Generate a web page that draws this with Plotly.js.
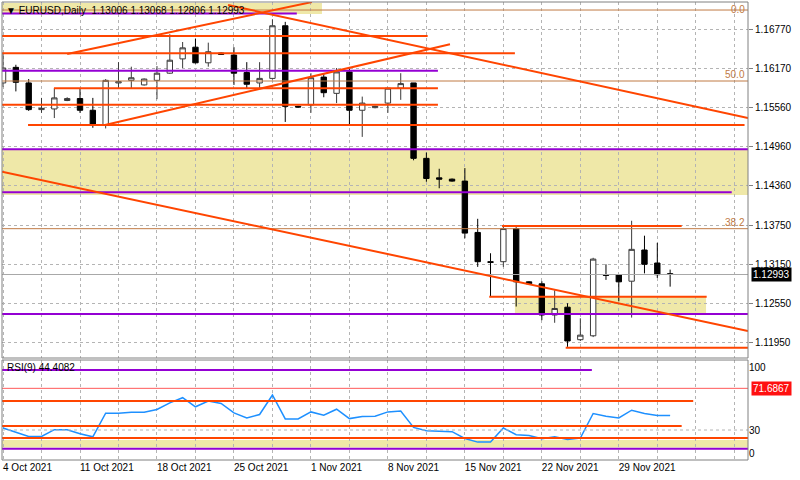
<!DOCTYPE html>
<html><head><meta charset="utf-8">
<script src="https://cdn.plot.ly/plotly-3.0.1.min.js"></script>
<style>html,body{margin:0;padding:0;background:#fff}#chart{width:800px;height:480px}</style>
</head><body><div id="chart"></div>
<script>
// ---- data ----
const dates = ['2021-10-04','2021-10-05','2021-10-06','2021-10-07','2021-10-08','2021-10-10',
 '2021-10-11','2021-10-12','2021-10-13','2021-10-14','2021-10-15','2021-10-17',
 '2021-10-18','2021-10-19','2021-10-20','2021-10-21','2021-10-22','2021-10-24',
 '2021-10-25','2021-10-26','2021-10-27','2021-10-28','2021-10-29','2021-10-31',
 '2021-11-01','2021-11-02','2021-11-03','2021-11-04','2021-11-05','2021-11-07',
 '2021-11-08','2021-11-09','2021-11-10','2021-11-11','2021-11-12','2021-11-14',
 '2021-11-15','2021-11-16','2021-11-17','2021-11-18','2021-11-19','2021-11-21',
 '2021-11-22','2021-11-23','2021-11-24','2021-11-25','2021-11-26','2021-11-28',
 '2021-11-29','2021-11-30','2021-12-01','2021-12-02','2021-12-03'];
const open  = [1.1594,1.1618,1.1594,1.1553,1.1554,1.1567, 1.1570,1.1552,1.1529,1.1594,1.1598,1.1591,
 1.1598,1.1609,1.1631,1.1649,1.1625,1.1640, 1.1637,1.1610,1.1594,1.1601,1.1682,1.1558,
 1.1560,1.1603,1.1578,1.1611,1.1552,1.1556, 1.1563,1.1586,1.1594,1.1478,1.1448,1.1446,
 1.1443,1.1364,1.1319,1.1319,1.1370,1.1288, 1.1285,1.1237,1.1249,1.1199,1.1205,1.1299,
 1.1299,1.1289,1.1337,1.1317,1.13006];
const high  = [1.1640,1.1622,1.1600,1.1571,1.1586,1.1572, 1.1585,1.1571,1.1600,1.1626,1.1619,1.1601,
 1.1620,1.1669,1.1657,1.1662,1.1656,1.1641, 1.1649,1.1626,1.1626,1.1692,1.1688,1.1559,
 1.1609,1.1608,1.1617,1.1616,1.1573,1.1559, 1.1586,1.1609,1.1594,1.1487,1.1462,1.1447,
 1.1463,1.1385,1.1332,1.1373,1.1372,1.1289, 1.1289,1.1275,1.1255,1.1232,1.1325,1.1315,
 1.1300,1.1382,1.1359,1.1348,1.13068];
const low   = [1.1588,1.1581,1.1551,1.1548,1.1540,1.1566, 1.1548,1.1525,1.1524,1.1586,1.1586,1.1590,
 1.1569,1.1608,1.1617,1.1624,1.1619,1.1637, 1.1591,1.1586,1.1586,1.1599,1.1534,1.1556,
 1.1548,1.1572,1.1563,1.1529,1.1511,1.1555, 1.1548,1.1568,1.1475,1.1442,1.1432,1.1442,
 1.1355,1.1311,1.1265,1.1311,1.1250,1.1284, 1.1229,1.1225,1.1188,1.1197,1.1203,1.1291,
 1.1258,1.1233,1.1301,1.1294,1.12806];
const close = [1.1617,1.1595,1.1553,1.1555,1.1571,1.1570, 1.1552,1.1529,1.1598,1.1596,1.1602,1.1600,
 1.1609,1.1629,1.1648,1.1625,1.1642,1.1638, 1.1609,1.1592,1.1601,1.1682,1.1558,1.1557,
 1.1602,1.1579,1.1611,1.1552,1.1563,1.1558, 1.1586,1.1593,1.1478,1.1447,1.1446,1.1443,
 1.1363,1.1319,1.1318,1.1370,1.1288,1.1285, 1.1237,1.1247,1.1197,1.1206,1.1323,1.1298,
 1.1288,1.1338,1.1315,1.1299,1.12993];
const rsi = [32.0,28.0,23.6,23.6,30.3,30.3, 26.3,23.2,46.8,46.8,47.8,47.8,
 50.5,57.2,62.3,53.2,58.9,56.6, 47.1,42.1,45.5,65.0,41.1,41.1,
 48.1,44.8,50.8,41.4,43.4,43.8, 48.1,49.0,32.6,29.3,28.6,28.3,
 21.5,17.9,17.9,32.0,25.3,24.6, 21.2,23.2,20.5,21.9,46.5,43.8,
 42.1,49.8,46.5,44.6,44.4];
const tickDates = ['2021-10-04','2021-10-11','2021-10-18','2021-10-25','2021-11-01','2021-11-08','2021-11-15','2021-11-22','2021-11-29'];
const tickLabels = ['4 Oct 2021','11 Oct 2021','18 Oct 2021','25 Oct 2021','1 Nov 2021','8 Nov 2021','15 Nov 2021','22 Nov 2021','29 Nov 2021'];
const priceTicks = [1.16770,1.16170,1.15560,1.14960,1.14360,1.13750,1.13150,1.12550,1.11950];
const priceTickText = ['1.16770','1.16170','1.15560','1.14960','1.14360','1.13750','1.13150','1.12550','1.11950'];
const lastPrice = 1.12993;
const titleText = '▼ EURUSD,Daily  1.13006 1.13068 1.12806 1.12993';
const rsiTitle = 'RSI(9) 44.4082';
const rsiMarked = 71.6867;

// drawn objects (bar-index, price)
const XMIN = -0.08, XMAX = 58.07;
const orangeLevels = [1.16662,1.16396,1.15858,1.15605,1.15293,1.13739,1.12651,1.11867];
const orangeFrom   = [XMIN,XMIN,3.97,XMIN,1.95,38.9,37.9,43.86];
const orangeTo     = [33.1,39.9,33.9,33.9,57.8,52.9,54.85,XMAX];
const purpleLevels = [1.17008,1.16128,1.14919,1.14258,1.12385];
const purpleFrom   = [XMIN,XMIN,XMIN,XMIN,XMIN];
const purpleTo     = [22.9,33.9,XMAX,56.8,XMAX];
const fibLevels = [1.17062,1.15970,1.13698];
const fibLabels = ['0.0','50.0','38.2'];
const zoneLow  = [1.17001,1.14216,1.12401];
const zoneHigh = [1.17170,1.14908,1.12647];
const zoneFrom = [XMIN,XMIN,39.9];
const zoneTo   = [24.86,XMAX,54.8];
const trendX0 = [5.0,7.95,17.54,XMIN];
const trendY0 = [1.16385,1.15293,1.17139,1.14575];
const trendX1 = [24.08,34.84,XMAX,XMAX];
const trendY1 = [1.17185,1.16535,1.15401,1.12124];
const rsiLevels = [90,71.6867,59,34,30,22,11.3];
const rsiLevelTo = [45.9,XMAX,53.8,52.9,XMAX,XMAX,XMAX];
const rsiZone = [12.5,20];

// ---- build ----
const xs = dates.map((d,i)=>i);
const tickvals = tickDates.map(d=>dates.indexOf(d));

const ORANGE='#ff4500', PURPLE='#9400d3', FIB='#c07a45', ZONE='#efe8a8';
const shapes = [];
zoneLow.forEach((lo,i)=>shapes.push({type:'rect',xref:'x',yref:'y',x0:zoneFrom[i],x1:zoneTo[i],y0:lo,y1:zoneHigh[i],fillcolor:ZONE,line:{width:0},layer:'below'}));
shapes.push({type:'rect',xref:'x',yref:'y2',x0:XMIN,x1:XMAX,y0:rsiZone[0],y1:rsiZone[1],fillcolor:ZONE,line:{width:0},layer:'below'});
fibLevels.forEach(v=>shapes.push({type:'line',xref:'x',yref:'y',x0:XMIN,x1:XMAX,y0:v,y1:v,line:{color:FIB,width:1}}));
shapes.push({type:'line',xref:'x',yref:'y',x0:XMIN,x1:XMAX,y0:lastPrice,y1:lastPrice,line:{color:'#a8a8a8',width:1}});
purpleLevels.forEach((v,i)=>shapes.push({type:'line',xref:'x',yref:'y',x0:purpleFrom[i],x1:purpleTo[i],y0:v,y1:v,line:{color:PURPLE,width:2}}));
orangeLevels.forEach((v,i)=>shapes.push({type:'line',xref:'x',yref:'y',x0:orangeFrom[i],x1:orangeTo[i],y0:v,y1:v,line:{color:ORANGE,width:2}}));
trendX0.forEach((x,i)=>shapes.push({type:'line',xref:'x',yref:'y',x0:x,x1:trendX1[i],y0:trendY0[i],y1:trendY1[i],line:{color:ORANGE,width:2}}));
const rsiColors = [PURPLE,'#ff5a5a',ORANGE,ORANGE,'#b4b4b4',ORANGE,PURPLE];
rsiLevels.forEach((v,i)=>shapes.push({type:'line',xref:'x',yref:'y2',x0:XMIN,x1:rsiLevelTo[i],y0:v,y1:v,
  line:{color:rsiColors[i],width:(i===1||i===4)?1:2,dash:i===4?'dot':'solid'}}));
// pane frames
shapes.push({type:'rect',xref:'paper',yref:'paper',x0:0,x1:1,y0:0.2227,y1:1,line:{color:'#808080',width:1}});
shapes.push({type:'rect',xref:'paper',yref:'paper',x0:0,x1:1,y0:0,y1:0.2183,line:{color:'#808080',width:1}});

const annotations = [
 {xref:'paper',yref:'paper',x:0,y:1,xanchor:'left',yanchor:'top',xshift:2,yshift:-1,text:titleText,showarrow:false,font:{size:10,color:'#000'}},
 {xref:'paper',yref:'y2',x:0,y:93,xanchor:'left',yanchor:'middle',xshift:3,text:rsiTitle,showarrow:false,font:{size:10,color:'#000'}},
 {xref:'paper',yref:'y',x:1,y:lastPrice,xanchor:'left',yanchor:'middle',xshift:3,text:lastPrice.toFixed(5),showarrow:false,bgcolor:'#000',borderpad:1,font:{size:10,color:'#fff'}},
 {xref:'paper',yref:'y2',x:1,y:rsiMarked,xanchor:'left',yanchor:'middle',xshift:3,text:rsiMarked.toFixed(4),showarrow:false,bgcolor:'#ff1010',borderpad:1,font:{size:10,color:'#fff'}}
];
fibLevels.forEach((v,i)=>annotations.push(i===0
  ? {xref:'x',yref:'paper',x:XMAX,y:1,xanchor:'right',yanchor:'top',xshift:-2,yshift:-1,text:fibLabels[i],showarrow:false,borderpad:0,font:{size:10,color:FIB}}
  : {xref:'x',yref:'y',x:XMAX,y:v,xanchor:'right',yanchor:'bottom',xshift:-2,text:fibLabels[i],showarrow:false,borderpad:0,font:{size:10,color:FIB}}));

const traces = [
 {type:'candlestick',x:xs,open:open,high:high,low:low,close:close,xaxis:'x',yaxis:'y',whiskerwidth:0,hoverinfo:'skip',
  increasing:{line:{color:'#3a3a3a',width:1},fillcolor:'#ffffff'},
  decreasing:{line:{color:'#000000',width:1},fillcolor:'#000000'}},
 {type:'scatter',mode:'lines',x:xs,y:rsi,xaxis:'x',yaxis:'y2',line:{color:'#1e90ff',width:1.5},hoverinfo:'skip'}
];

const layout = {
 width:800,height:480,margin:{l:2,r:52,t:2,b:20,pad:0},
 paper_bgcolor:'#ffffff',plot_bgcolor:'#ffffff',showlegend:false,boxgap:0.4,
 font:{family:'"Liberation Sans", Arial, sans-serif',size:10,color:'#000'},
 xaxis:{range:[XMIN,XMAX],anchor:'y2',tickmode:'array',tickvals:tickvals,ticktext:tickLabels,
   ticklabelposition:'outside right',ticks:'',showgrid:false,zeroline:false,showline:false,
   rangeslider:{visible:false},fixedrange:true,tickfont:{size:10,color:'#000'},
   minor:{tickmode:'linear',tick0:0,dtick:3,showgrid:true,gridcolor:'#b4b4b4',griddash:'dot',gridwidth:1,ticks:''}},
 yaxis:{domain:[0.2227,1],range:[1.117083,1.171854],side:'right',anchor:'x',tickmode:'array',
   tickvals:priceTicks,ticktext:priceTickText,ticks:'outside',ticklen:4,tickcolor:'#808080',
   showgrid:true,gridcolor:'#b4b4b4',griddash:'dot',gridwidth:1,zeroline:false,showline:false,fixedrange:true,
   tickfont:{size:10,color:'#000'}},
 yaxis2:{domain:[0,0.2183],range:[0,100],side:'right',anchor:'x',tickmode:'array',tickvals:[6,30,93],
   ticktext:['0','30','100'],ticks:'',showgrid:false,zeroline:false,showline:false,fixedrange:true,
   tickfont:{size:10,color:'#000'}},
 shapes:shapes,annotations:annotations
};
Plotly.newPlot('chart',traces,layout,{staticPlot:true,displayModeBar:false});
</script></body></html>
